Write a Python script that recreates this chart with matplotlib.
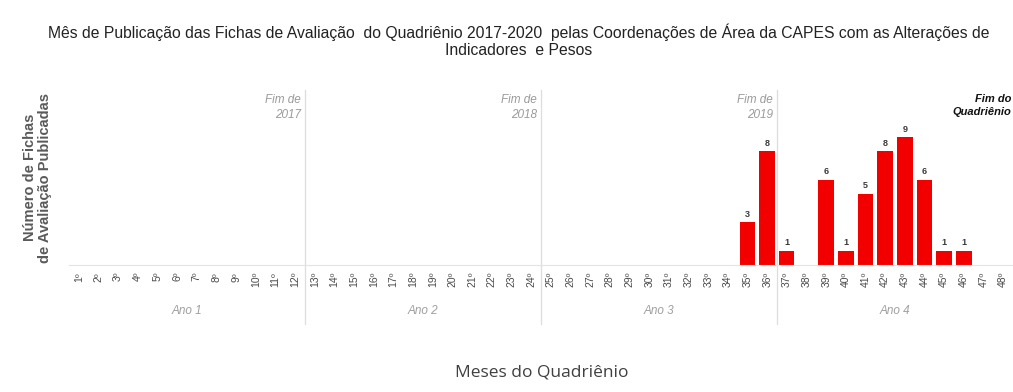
import matplotlib.pyplot as plt

plt.rcParams['font.family'] = ['Liberation Sans', 'DejaVu Sans']

# dados: fichas publicadas por mês do quadriênio
meses = list(range(1, 49))
mes_labels = [f"{m}º" for m in meses]
fichas_meses = [35, 36, 37, 39, 40, 41, 42, 43, 44, 45, 46]
fichas_valores = [3, 8, 1, 6, 1, 5, 8, 9, 6, 1, 1]
anos = ["Ano 1", "Ano 2", "Ano 3", "Ano 4"]
fim_ano = ["Fim de\n2017", "Fim de\n2018", "Fim de\n2019"]

fig = plt.figure(figsize=(10.13, 3.92), dpi=100)
ax = fig.add_axes([0.0681, 0.324, 0.9319, 0.446])

bars = ax.bar(fichas_meses, fichas_valores, width=0.78, color="#f20000")
for b, v in zip(bars, fichas_valores):
    ax.text(b.get_x() + b.get_width() / 2, v + 0.25, str(v), ha="center", va="bottom",
            fontsize=6.5, fontweight="bold", color="#3a3a3a")

ax.set_xlim(0.5, 48.5)
ax.set_ylim(0, 12.3)
ax.set_xticks(meses)
ax.set_xticklabels(mes_labels, rotation=90, fontsize=7.5, color="#4a4a4a")
ax.tick_params(axis="x", length=0, pad=5)
ax.set_yticks([])
for s in ["top", "right", "left"]:
    ax.spines[s].set_visible(False)
ax.spines["bottom"].set_color("#e3e3e3")

# separadores de ano
for i in range(3):
    xs = 12.5 + 12 * i
    ax.plot([xs, xs], [-0.34, 1.0], transform=ax.get_xaxis_transform(), color="#dddddd",
            lw=0.9, clip_on=False)
    ax.text(xs - 0.2, 12.0, fim_ano[i], ha="right", va="top", fontsize=8.5,
            style="italic", color="#9a9a9a", linespacing=1.3)

ax.text(48.4, 12.0, "Fim do\nQuadriênio", ha="right", va="top", fontsize=8,
        style="italic", fontweight="bold", color="#111111", linespacing=1.3)

for i, a in enumerate(anos):
    ax.text(6.5 + 12 * i, -0.265, a, transform=ax.get_xaxis_transform(), ha="center",
            va="center", fontsize=8.5, style="italic", color="#a0a0a0")

ax.set_ylabel("Número de Fichas\nde Avaliação Publicadas", fontsize=10.5, color="#5a5a5a",
              fontweight="bold", labelpad=12, linespacing=1.1)

fig.text(0.535, 0.051, "Meses do Quadriênio", ha="center", va="center", fontsize=12.5,
         color="#404040", family=["Open Sans", "DejaVu Sans"])

fig.text(0.512, 0.896, "Mês de Publicação das Fichas de Avaliação  do Quadriênio 2017-2020  pelas "
         "Coordenações de Área da CAPES com as Alterações de\nIndicadores  e Pesos",
         ha="center", va="center", fontsize=11.3, color="#222222", linespacing=1.1)

fig.savefig("out.png", dpi=100)
